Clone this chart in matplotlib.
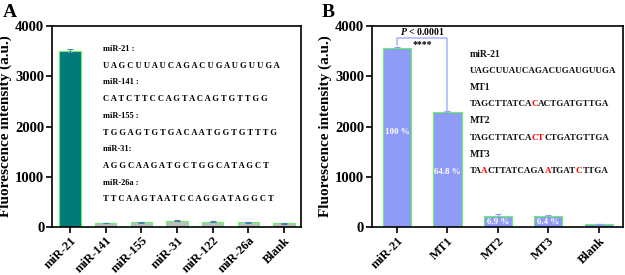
import matplotlib
matplotlib.use("Agg")
import matplotlib.pyplot as plt
import numpy as np

plt.rcParams['font.family'] = ['Liberation Serif', 'DejaVu Serif']
plt.rcParams['font.weight'] = 'bold'
plt.rcParams['mathtext.fontset'] = 'custom'
plt.rcParams['mathtext.it'] = 'Liberation Serif:bold:italic'
plt.rcParams['mathtext.rm'] = 'Liberation Serif:bold'

# --- Panel A data ---
cats_a = ['miR-21', 'miR-141', 'miR-155', 'miR-31', 'miR-122', 'miR-26a', 'Blank']
vals_a = [3510, 80, 95, 125, 100, 90, 75]
errs_a = [25, 8, 10, 10, 10, 8, 8]
seq_names_a = ['miR-21 :', 'miR-141 :', 'miR-155 :', 'miR-31:', 'miR-26a :']
seqs_a = ['UAGCUUAUCAGACUGAUGUUGA', 'CATCTTCCAGTACAGTGTTGG',
          'TGGAGTGTGACAATGGTGTTTG', 'AGGCAAGATGCTGGCATAGCT',
          'TTCAAGTAATCCAGGATAGGCT']

# --- Panel B data ---
cats_b = ['miR-21', 'MT1', 'MT2', 'MT3', 'Blank']
vals_b = [3555, 2295, 220, 215, 62]
errs_b = [35, 20, 30, 25, 5]
pct_b = ['100 %', '64.8 %', '6.9 %', '6.4 %', '']
seq_names_b = ['miR-21', 'MT1', 'MT2', 'MT3']
# (text, is_mutation) pieces
seqs_b = [
    [('UAGCUUAUCAGACUGAUGUUGA', False)],
    [('TAGCTTATCA', False), ('C', True), ('ACTGATGTTGA', False)],
    [('TAGCTTATCA', False), ('CT', True), ('CTGATGTTGA', False)],
    [('TA', False), ('A', True), ('CTTATCAGA', False), ('A', True),
     ('TGAT', False), ('C', True), ('TTGA', False)],
]

teal = '#007A78'
grey = '#BEBEBE'
edge = '#66F266'
blue = '#8E9CF7'
bracket = '#A8B4F8'


def style_axes(ax, cats, xmax):
    ax.set_ylim(0, 4000)
    ax.set_xlim(-0.5, xmax)
    ax.set_yticks([0, 1000, 2000, 3000, 4000])
    ax.set_xticks(range(len(cats)))
    ax.set_xticklabels(cats, rotation=45, ha='right', rotation_mode='anchor',
                       fontsize=9, fontweight='bold')
    for lab in ax.get_yticklabels():
        lab.set_fontsize(10.5)
        lab.set_fontweight('bold')
    ax.tick_params(direction='out', length=4, width=1.2, pad=1.5)
    for s in ax.spines.values():
        s.set_linewidth(1.2)
    ax.set_ylabel('Fluorescence intensity (a.u.)', fontsize=11,
                  fontweight='bold', labelpad=2)


def text_width(fig, ax, s, size):
    renderer = fig.canvas.get_renderer()
    t = ax.text(0, 0, s, transform=ax.transAxes, fontsize=size, fontweight='bold')
    w = t.get_window_extent(renderer).width
    t.remove()
    return w


def colored_line(fig, ax, x, y, pieces, size):
    # place each piece where its first glyph sits inside the whole string;
    # small pull-back so pixel rounding does not open gaps
    x0_px = ax.transAxes.transform((x, y))[0]
    prefix = ''
    for txt, mut in pieces:
        off = 0.0
        if prefix:
            off = (text_width(fig, ax, prefix + txt[0], size)
                   - text_width(fig, ax, txt[0], size)) - 0.7
        xa = ax.transAxes.inverted().transform((x0_px + off, 0))[0]
        ax.text(xa, y, txt, transform=ax.transAxes, fontsize=size,
                fontweight='bold', color='red' if mut else '#111111',
                va='center', ha='left')
        prefix += txt


fig = plt.figure(figsize=(6.25, 2.75), dpi=100)
ax_a = fig.add_axes([0.0832, 0.1745, 0.3984, 0.731])
ax_b = fig.add_axes([0.595, 0.1745, 0.4016, 0.731])

# Panel A
xa = np.arange(len(cats_a))
colors_a = [teal] + [grey] * (len(cats_a) - 1)
ax_a.bar(xa, vals_a, width=0.6, color=colors_a, edgecolor=edge, linewidth=0.8,
         yerr=errs_a, error_kw=dict(ecolor='#4a7fb0', elinewidth=0.8, capsize=2,
                                    capthick=0.8))
style_axes(ax_a, cats_a, 6.47)
for i, (nm, sq) in enumerate(zip(seq_names_a, seqs_a)):
    y0 = 0.885 - i * 0.166
    ax_a.text(0.205, y0, nm, transform=ax_a.transAxes, fontsize=6,
              fontweight='bold', va='center')
    ax_a.text(0.205, y0 - 0.083, ' '.join(sq), transform=ax_a.transAxes,
              fontsize=6.1, fontweight='bold', va='center')

# Panel B
xb = np.arange(len(cats_b))
ax_b.bar(xb, vals_b, width=0.56, color=blue, edgecolor=edge, linewidth=0.8,
         yerr=errs_b, error_kw=dict(ecolor=blue, elinewidth=0.8, capsize=2,
                                    capthick=0.8))
style_axes(ax_b, cats_b, 4.48)
pct_y = [1900, 1100, 105, 105]
for i, p in enumerate(pct_b):
    if p:
        ax_b.text(xb[i], pct_y[i], p, ha='center', va='center', color='white',
                  fontsize=6.5, fontweight='bold')

# significance bracket between miR-21 and MT1
top = 3760
ax_b.plot([xb[0], xb[0], xb[1], xb[1]],
          [vals_b[0] + errs_b[0] + 30, top, top, vals_b[1] + errs_b[1]],
          color=bracket, lw=1.1)
ax_b.text((xb[0] + xb[1]) / 2, 3890, '$P$ < 0.0001', ha='center', va='center',
          fontsize=7)
ax_b.text((xb[0] + xb[1]) / 2, 3630, '****', ha='center', va='center',
          fontsize=7)

for i, (nm, pieces) in enumerate(zip(seq_names_b, seqs_b)):
    y0 = 0.86 - i * 0.166
    ax_b.text(0.39, y0, nm, transform=ax_b.transAxes, fontsize=7,
              fontweight='bold', va='center', color='#111111')
    colored_line(fig, ax_b, 0.39, y0 - 0.083, pieces, 6.5)

fig.text(0.005, 0.985, 'A', fontsize=14, fontweight='bold', va='top')
fig.text(0.515, 0.985, 'B', fontsize=14, fontweight='bold', va='top')

fig.savefig('out.png', dpi=100)
